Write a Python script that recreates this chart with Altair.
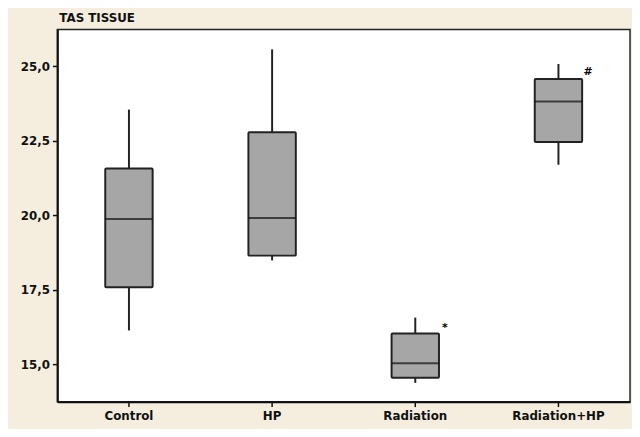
import altair as alt
import pandas as pd

groups = ["Control", "HP", "Radiation", "Radiation+HP"]
whisker_low = [16.13, 18.48, 14.37, 21.69]
q1 = [17.58, 18.64, 14.54, 22.45]
median = [19.87, 19.90, 15.03, 23.81]
q3 = [21.56, 22.78, 16.03, 24.57]
whisker_high = [23.54, 25.56, 16.56, 25.07]

mark_groups = ["Radiation", "Radiation+HP"]
mark_text = ["*", "#"]
mark_y = [16.2, 24.8]

y_ticks = [15.0, 17.5, 20.0, 22.5, 25.0]

df = pd.DataFrame({
    "group": groups, "lo": whisker_low, "q1": q1, "med": median,
    "q3": q3, "hi": whisker_high,
})
ann = pd.DataFrame({"group": mark_groups, "label": mark_text, "y": mark_y})

FONT = "DejaVu Sans"

x_enc = alt.X("group:N", sort=groups, title=None,
              scale=alt.Scale(paddingInner=0, paddingOuter=0),
              axis=alt.Axis(labelAngle=0, labelFont=FONT, labelFontSize=12,
                            labelFontWeight="bold", labelColor="#111",
                            labelPadding=4, tickSize=5, tickColor="#111",
                            tickWidth=1.5, domainColor="#111", domainWidth=2,
                            grid=False))
y_scale = alt.Scale(domain=[13.74, 26.23], nice=False, zero=False)
y_axis = alt.Axis(values=y_ticks, labelFont=FONT, labelFontSize=12,
                  labelFontWeight="bold", labelColor="#111", labelPadding=3,
                  labelExpr="replace(format(datum.value, '.1f'), '.', ',')",
                  tickSize=5, tickColor="#111", tickWidth=1.5,
                  domainColor="#111", domainWidth=2, grid=False)

base = alt.Chart(df)

whisk = base.mark_rule(color="#222", strokeWidth=2).encode(
    x=x_enc,
    y=alt.Y("lo:Q", scale=y_scale, axis=y_axis, title=None),
    y2="hi:Q",
)
box = base.mark_bar(size=48, color="#A6A6A6", stroke="#222",
                    strokeWidth=2, cornerRadius=1).encode(
    x=alt.X("group:N", sort=groups),
    y=alt.Y("q1:Q"),
    y2="q3:Q",
)
med = base.mark_tick(size=48, thickness=2, color="#111", orient="horizontal").encode(
    x=alt.X("group:N", sort=groups),
    y=alt.Y("med:Q"),
)
txt = alt.Chart(ann).mark_text(dx=30, fontSize=11, fontWeight="bold",
                               font=FONT, color="#000").encode(
    x=alt.X("group:N", sort=groups),
    y=alt.Y("y:Q"),
    text="label:N",
)

chart = alt.layer(whisk, box, med, txt).properties(
    width=580, height=377,
    title=alt.TitleParams("TAS TISSUE", anchor="start", frame="group",
                          font=FONT, fontSize=12, fontWeight="bold",
                          color="#111", offset=5, dx=2),
    background="#F5EEDF",
    padding={"left": 50, "top": 19, "right": 2, "bottom": 25},
    autosize=alt.AutoSizeParams(type="none"),
).configure_view(
    fill="white", stroke="#222", strokeWidth=1.5
)

chart.save("out.html", embed_options={"renderer": "svg", "actions": False})
